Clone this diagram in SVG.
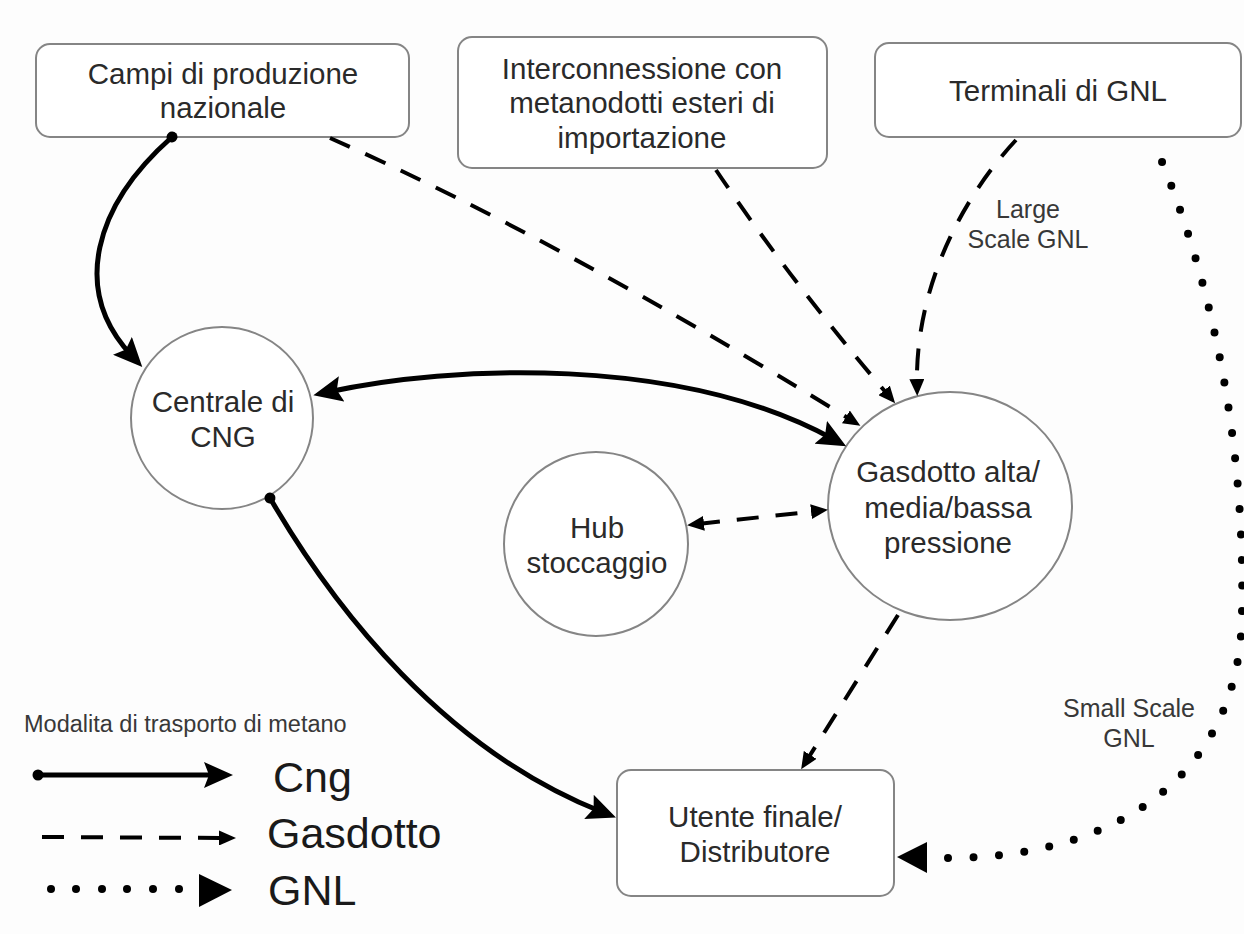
<svg xmlns="http://www.w3.org/2000/svg" width="1244" height="934" viewBox="0 0 1244 934">
  <defs>
    <style>
      .node-shape { fill: #ffffff; stroke: #858585; stroke-width: 2; }
      .node-text { font-family: "Liberation Sans", Arial, sans-serif; font-size: 29.5px; fill: #2a2a2a; text-anchor: middle; }
      .label { font-family: "Liberation Sans", Arial, sans-serif; font-size: 25px; fill: #383838; text-anchor: middle; }
      .legend-title { font-family: "Liberation Sans", Arial, sans-serif; font-size: 23.5px; fill: #383838; }
      .legend-key { font-family: "Liberation Sans", Arial, sans-serif; font-size: 43px; fill: #1a1a1a; }
      .cng { fill: none; stroke: #000000; stroke-width: 5; stroke-linecap: round; }
      .gas { fill: none; stroke: #000000; stroke-width: 4; stroke-dasharray: 22 17; }
      .lng { fill: none; stroke: #000000; stroke-width: 8; stroke-linecap: round; stroke-dasharray: 0 25.5; }
    </style>
    <!-- big solid arrowhead for CNG transport -->
    <marker id="head-cng" markerUnits="userSpaceOnUse" viewBox="0 0 29 26" markerWidth="29" markerHeight="26" refX="14" refY="13" orient="auto-start-reverse">
      <path d="M0,0 L29,13 L0,26 L5,13 z" fill="#000"/>
    </marker>
    <!-- small arrowhead for pipeline transport -->
    <marker id="head-gas" markerUnits="userSpaceOnUse" viewBox="0 0 17 15" markerWidth="17" markerHeight="15" refX="6" refY="7.5" orient="auto-start-reverse">
      <path d="M0,0 L17,7.5 L0,15 z" fill="#000"/>
    </marker>
    <!-- round tail dot -->
    <marker id="tail-dot" markerUnits="userSpaceOnUse" viewBox="-7 -7 14 14" markerWidth="14" markerHeight="14" refX="0" refY="0" orient="auto">
      <circle cx="0" cy="0" r="5.5" fill="#000"/>
    </marker>
  </defs>

  <rect x="0" y="0" width="1244" height="934" fill="#fdfdfd"/>

  <!-- nodes -->
  <g id="campi">
    <rect class="node-shape" x="36" y="44" width="373" height="93" rx="14"/>
    <text class="node-text" x="223" y="84">Campi di produzione</text>
    <text class="node-text" x="223" y="118">nazionale</text>
  </g>
  <g id="interconnessione">
    <rect class="node-shape" x="458" y="37" width="369" height="131" rx="14"/>
    <text class="node-text" x="642" y="79">Interconnessione con</text>
    <text class="node-text" x="642" y="113">metanodotti esteri di</text>
    <text class="node-text" x="642" y="148">importazione</text>
  </g>
  <g id="terminali">
    <rect class="node-shape" x="875" y="43" width="366" height="94" rx="14"/>
    <text class="node-text" x="1058" y="101">Terminali di GNL</text>
  </g>
  <g id="centrale">
    <circle class="node-shape" cx="222" cy="418" r="91"/>
    <text class="node-text" x="223" y="412">Centrale di</text>
    <text class="node-text" x="223" y="447">CNG</text>
  </g>
  <g id="hub">
    <circle class="node-shape" cx="596" cy="544" r="92"/>
    <text class="node-text" x="597" y="538">Hub</text>
    <text class="node-text" x="597" y="573">stoccaggio</text>
  </g>
  <g id="gasdotto">
    <ellipse class="node-shape" cx="950" cy="506" rx="122" ry="114"/>
    <text class="node-text" x="948" y="482">Gasdotto alta/</text>
    <text class="node-text" x="948" y="518">media/bassa</text>
    <text class="node-text" x="948" y="553">pressione</text>
  </g>
  <g id="utente">
    <rect class="node-shape" x="617" y="770" width="277" height="126" rx="14"/>
    <text class="node-text" x="755" y="827">Utente finale/</text>
    <text class="node-text" x="755" y="862">Distributore</text>
  </g>

  <!-- connectors -->
  <g id="connectors">
    <!-- CNG (solid) -->
    <path class="cng" d="M172,137 C95,205 70,290 132,356" marker-start="url(#tail-dot)" marker-end="url(#head-cng)"/>
    <path class="cng" d="M328,392 C450,365 680,355 833,439" marker-start="url(#head-cng)" marker-end="url(#head-cng)"/>
    <path class="cng" d="M270,498 C335,610 445,750 602,812" marker-start="url(#tail-dot)" marker-end="url(#head-cng)"/>

    <!-- pipeline (dashed) -->
    <path class="gas" d="M330,138 Q560,240 851,420" marker-end="url(#head-gas)"/>
    <path class="gas" d="M716,170 Q790,280 888,395" marker-end="url(#head-gas)"/>
    <path class="gas" d="M1016,140 C960,200 915,290 917,385" marker-end="url(#head-gas)"/>
    <path class="gas" d="M698,524 L817,511" marker-start="url(#head-gas)" marker-end="url(#head-gas)"/>
    <path class="gas" d="M898,615 L807,760" marker-end="url(#head-gas)"/>

    <!-- LNG (dotted), traced from the arrow end back to the terminal -->
    <path class="lng" d="M948,858 C1110,858 1242,780 1242,610 C1245,450 1215,290 1160,157"/>
    <polygon points="897,857 927,842 927,873" fill="#000"/>

    <!-- connector labels -->
    <text class="label" x="1028" y="218">Large</text>
    <text class="label" x="1028" y="248">Scale GNL</text>
    <text class="label" x="1129" y="717">Small Scale</text>
    <text class="label" x="1129" y="747">GNL</text>
  </g>

  <!-- legend -->
  <g id="legend">
    <text class="legend-title" x="24" y="732">Modalita di trasporto di metano</text>

    <path class="cng" d="M38,775 L218,775" marker-start="url(#tail-dot)" marker-end="url(#head-cng)"/>
    <text class="legend-key" x="273" y="792">Cng</text>

    <path class="gas" d="M42,837 L225,838" stroke-dasharray="22 20" marker-end="url(#head-gas)"/>
    <text class="legend-key" x="267" y="848">Gasdotto</text>

    <g fill="#000">
      <circle cx="51" cy="889" r="4"/>
      <circle cx="76" cy="889" r="4"/>
      <circle cx="102" cy="889" r="4"/>
      <circle cx="127" cy="889" r="4"/>
      <circle cx="153" cy="889" r="4"/>
      <circle cx="179" cy="889" r="4"/>
      <polygon points="199,874 232,890 199,907"/>
    </g>
    <text class="legend-key" x="268" y="905">GNL</text>
  </g>
</svg>
